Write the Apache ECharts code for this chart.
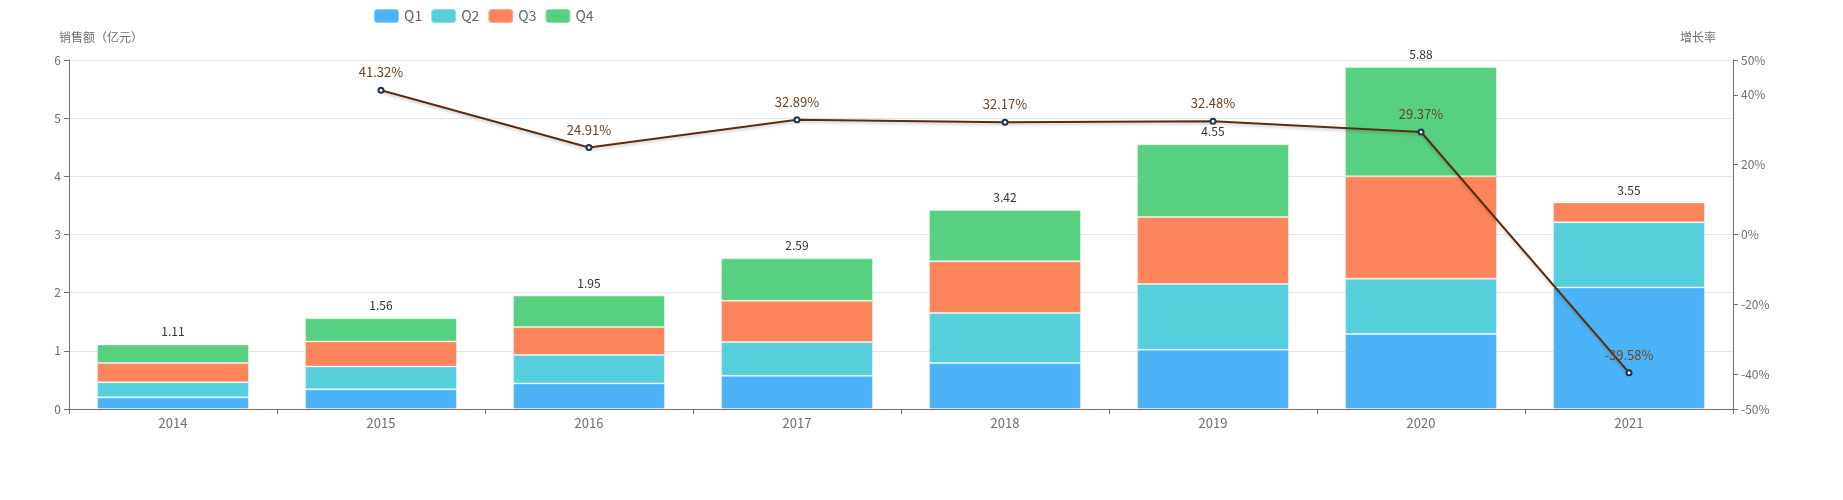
<!DOCTYPE html>
<html>
<head>
<meta charset="utf-8">
<script src="https://cdn.jsdelivr.net/npm/echarts@6/dist/echarts.min.js"></script>
<style>
  html, body { margin: 0; padding: 0; background: #fff; }
  #chart { width: 1843px; height: 500px; }
</style>
</head>
<body>
<div id="chart"></div>
<script>
// 年度季度销售额（亿元）与增长率
const years = ['2014', '2015', '2016', '2017', '2018', '2019', '2020', '2021'];
const q1 = [0.20, 0.34, 0.44, 0.57, 0.79, 1.02, 1.29, 2.09];
const q2 = [0.26, 0.39, 0.49, 0.58, 0.86, 1.13, 0.95, 1.12];
const q3 = [0.33, 0.43, 0.48, 0.71, 0.89, 1.15, 1.76, 0.34];
const q4 = [0.32, 0.40, 0.54, 0.73, 0.88, 1.25, 1.88, null];
const totals = [1.11, 1.56, 1.95, 2.59, 3.42, 4.55, 5.88, 3.55];
const growth = [null, 41.32, 24.91, 32.89, 32.17, 32.48, 29.37, -39.58];

const FONT = '"Microsoft YaHei", "Noto Sans CJK SC", sans-serif';
const AXIS_COLOR = '#6e7079';

function quarterSeries(name, data, color) {
  return {
    name: name,
    type: 'bar',
    stack: 'sales',
    barCategoryGap: '27%',
    data: data,
    itemStyle: {
      color: color,
      borderColor: 'rgba(255,255,255,0.35)',
      borderWidth: 1
    }
  };
}

const chart = echarts.init(document.getElementById('chart'));
chart.setOption({
  animation: false,
  textStyle: { fontFamily: FONT },
  legend: {
    data: ['Q1', 'Q2', 'Q3', 'Q4'],
    left: 368,
    top: 3,
    itemWidth: 25,
    itemHeight: 14,
    textStyle: { color: '#666', fontSize: 14 }
  },
  grid: { left: 69, right: 110, top: 60, bottom: 91 },
  xAxis: {
    type: 'category',
    data: years,
    axisLine: { lineStyle: { color: AXIS_COLOR } },
    axisTick: { show: true },
    axisLabel: { color: AXIS_COLOR, fontSize: 13 }
  },
  yAxis: [
    {
      type: 'value',
      name: '销售额（亿元）',
      min: 0,
      max: 6,
      interval: 1,
      nameGap: 17,
      nameTextStyle: { color: AXIS_COLOR, fontSize: 12, align: 'left', padding: [0, 0, 0, -10] },
      axisLine: { show: true, lineStyle: { color: AXIS_COLOR } },
      axisTick: { show: true },
      axisLabel: { color: AXIS_COLOR, fontSize: 12 },
      splitLine: { lineStyle: { color: '#e0e6f1' } }
    },
    {
      type: 'value',
      name: '增长率',
      min: -50,
      max: 50,
      nameGap: 17,
      nameTextStyle: { color: AXIS_COLOR, fontSize: 12, align: 'right', padding: [0, 17, 0, 0] },
      axisLine: { show: true, lineStyle: { color: AXIS_COLOR } },
      axisTick: { show: true },
      axisLabel: { color: AXIS_COLOR, fontSize: 12, formatter: '{value}%' },
      splitLine: { show: false }
    }
  ],
  series: [
    quarterSeries('Q1', q1, '#4cb3f8'),
    quarterSeries('Q2', q2, '#56cfdc'),
    quarterSeries('Q3', q3, '#fc855b'),
    quarterSeries('Q4', q4, '#57d07f'),
    {
      name: '合计',
      type: 'line',
      data: totals,
      symbol: 'circle',
      symbolSize: 1,
      itemStyle: { color: 'rgba(0,0,0,0)' },
      lineStyle: { opacity: 0 },
      label: {
        show: true,
        position: 'top',
        distance: 6,
        color: '#333',
        fontSize: 12
      },
      z: 1
    },
    {
      name: '增长率',
      type: 'line',
      yAxisIndex: 1,
      data: growth,
      symbol: 'emptyCircle',
      symbolSize: 5,
      itemStyle: { color: '#23354a', borderWidth: 2 },
      lineStyle: {
        color: '#5b2d0c',
        width: 2,
        shadowColor: 'rgba(0,0,0,0.2)',
        shadowBlur: 3,
        shadowOffsetY: 2
      },
      label: {
        show: true,
        position: 'top',
        distance: 8,
        color: '#6e4424',
        fontSize: 13,
        formatter: p => p.value.toFixed(2) + '%'
      },
      z: 5
    }
  ]
});
</script>
</body>
</html>
